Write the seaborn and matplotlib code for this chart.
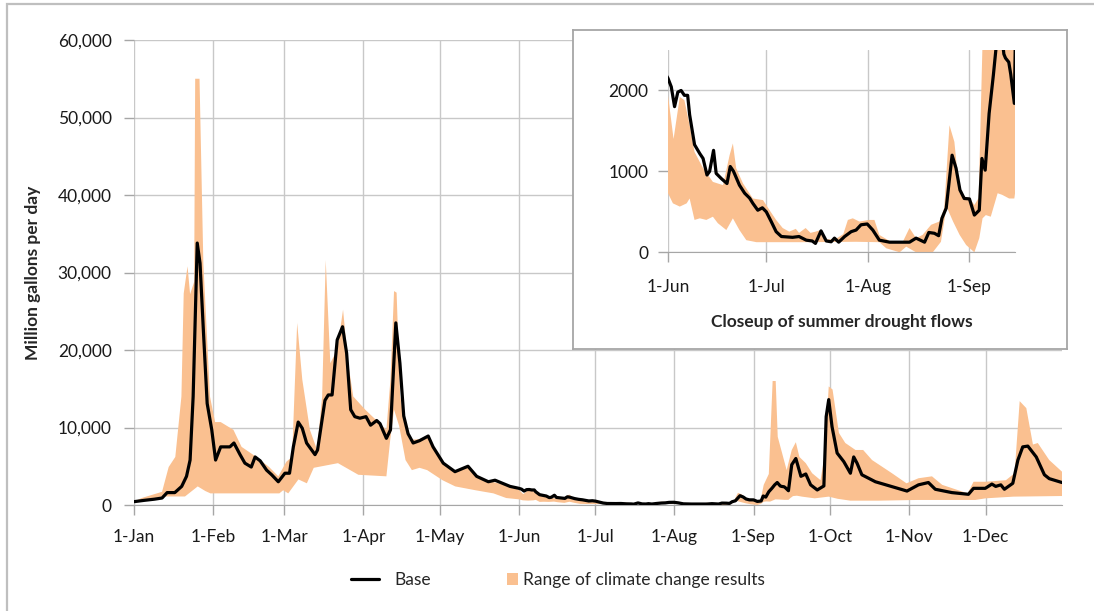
import matplotlib
matplotlib.use("Agg")
import matplotlib.pyplot as plt
from matplotlib.lines import Line2D
from matplotlib.patches import Patch, Rectangle
from matplotlib.ticker import FuncFormatter
import numpy as np
import seaborn as sns

sns.set_style("white")
plt.rcParams["font.family"] = ["Lato", "DejaVu Sans"]

# day of year (0 = 1-Jan) for month gridlines
month_starts = [0, 31, 59, 90, 120, 151, 181, 212, 243, 273, 304, 334]
month_labels = ["1-Jan", "1-Feb", "1-Mar", "1-Apr", "1-May", "1-Jun",
                "1-Jul", "1-Aug", "1-Sep", "1-Oct", "1-Nov", "1-Dec"]

# Base flow, million gallons per day
base_day = [0, 4, 8, 11, 13, 16, 18.7, 20.6, 22, 23.2, 24.8, 25.9, 27.2, 28.7, 30.5, 32, 34,
            37.6, 39.2, 41.6, 43.5, 46, 47.5, 49.5, 52, 54, 56.6, 59.2, 61, 62.5, 64.4, 66,
            67.7, 71, 72, 74.9, 76.2, 77.7, 79.7, 81.8, 83.4, 85, 86.6, 88.6, 91, 92.8, 95.2,
            96.5, 99, 100.6, 102.7, 104.3, 105.8, 107.5, 109.5, 112, 115.4, 117.3, 121.3,
            125.9, 131, 134.4, 139, 141.6, 147.5,
            151, 152, 153, 154, 155, 156, 157, 157.6, 159.1, 160.7, 161.7, 162.9, 163.7,
            164.9, 165.7, 167.3, 169, 170, 171, 172.8, 174.4, 175.9, 176.9, 178.4, 179.8,
            181, 182.5, 184, 185.6, 189, 191, 193.2, 195, 196, 197.7, 199.3, 200.8, 201.8,
            203.1, 204.9, 206.9, 208.4, 209.9, 211.8, 213.5, 215.5, 218.6, 224.7, 226.7,
            229.3, 230.6, 232.3, 233.6, 234.6, 235.9, 237.7, 238.9, 240.1, 241.4, 243,
            244.5, 246, 246.8, 247.8, 249, 250.3, 251.3, 252.3, 253.5, 254, 255, 255.6,
            256.7, 258, 259.6, 261.6, 263.5, 265.4, 268, 270.6, 271.5, 272.5, 273.8, 275.8,
            278.4, 281, 282.3, 283.6, 285.5, 290.8, 297.3, 303.2, 307.7, 311.6, 314.3,
            320.8, 327.3, 329.3, 333.9, 336.5, 338, 340, 341.4, 344.7, 346.7, 348.6, 350.6,
            353.9, 357.1, 359, 364]
base_flow = [430, 600, 750, 900, 1600, 1600, 2400, 3700, 5800, 14000, 33800, 31200, 22600,
             13100, 9700, 5800, 7500, 7500, 8000, 6500, 5400, 4900, 6200, 5700, 4500, 3900,
             3000, 4100, 4100, 7500, 10700, 9900, 8000, 6500, 7100, 13500, 14200, 14200,
             21300, 23000, 19600, 12300, 11400, 11200, 11400, 10300, 10900, 10500, 8600, 9700,
             23500, 18300, 11500, 9200, 8000, 8300, 8900, 7500, 5400, 4300, 5000, 3700, 3000,
             3200, 2400,
             2150, 2045, 1800, 1980, 2000, 1940, 1940, 1700, 1330, 1220, 1160, 955, 1000,
             1260, 975, 910, 850, 1060, 1000, 830, 730, 670, 605, 520, 550, 500, 380, 255,
             195, 185, 195, 150, 140, 110, 265, 140, 130, 175, 125, 195, 255, 275, 340, 350,
             275, 150, 125, 125, 175, 125, 245, 235, 205, 420, 545, 1200, 1040, 770, 665, 660,
             460, 520, 1160, 1015, 1715, 2190, 2600, 2900, 2450, 2400, 2350, 2200, 1840,
             5200, 6000, 3700, 4000, 2600, 1940, 2460, 11400, 13600, 10100, 6700, 5600, 4100,
             6200, 5400, 3900, 3000, 2370, 1800, 2600, 2900, 2030, 1600, 1380, 2150, 2150,
             2700, 2400, 2600, 2030, 2800, 5800, 7500, 7600, 6200, 3900, 3400, 2900]

# upper edge of climate change range
high_day = [0, 3, 11, 13.6, 16.2, 18.6, 19.5, 21, 22, 23.6, 24, 25.7, 27.2, 29.8, 31.8, 34,
            39, 42.2, 48, 53, 56.6, 59.8, 62, 64, 66, 69, 71.8, 73.8, 75.2, 77, 79.7, 82, 84,
            86, 90.7, 99, 100.6, 102, 103, 104.4, 106.3, 108, 112, 115.4, 117.3, 121.3,
            125.9, 131, 134.4, 139, 147.5,
            151, 152.7, 154.6, 156, 157.6, 159.1, 161.7, 164.7, 167.8, 169.8, 170.8, 171.8,
            173.9, 176.9, 180, 182, 184, 186, 188, 190, 191, 193, 194.5, 196, 197.7, 199.3,
            202, 204.5, 205.9, 207.4, 209.4, 212.4, 214, 215.5, 218.6, 222.6, 224.7, 226.7,
            228.7, 231.3, 233.8, 235.3, 236.9, 238.4, 239.9, 241.4, 243, 244.5, 245.8,
            247, 249, 250.5, 251.7, 252.5, 256, 258, 259.6, 261, 263.5, 266, 269.3, 271,
            272.5, 274, 276.5, 279, 283, 286, 289.5, 297.3, 303, 307.7, 313, 317, 327,
            329.3, 334, 342, 345.4, 347.4, 350, 352.6, 354.5, 359, 364]
high_flow = [430, 900, 1700, 4900, 6200, 14000, 27300, 30800, 27200, 28800, 55000, 55000,
             31200, 14000, 10700, 10700, 9700, 7500, 6200, 4900, 3700, 5600, 6200, 23500,
             16200, 9700, 7100, 14000, 31600, 18300, 20000, 25200, 18300, 14000, 12300, 9700,
             16200, 27600, 27400, 14000, 10500, 8400, 8500, 9000, 7600, 5500, 4400, 5100,
             3800, 3100, 2450,
             1940, 1400, 1920, 1880, 1570, 1240, 1040, 870, 830, 1200, 1345, 1040, 850, 665,
             645, 520, 400, 300, 255, 290, 240, 300, 240, 255, 275, 160, 160, 225, 400, 420,
             380, 400, 400, 215, 140, 125, 300, 175, 215, 340, 380, 545, 1570, 1365, 750,
             690, 670, 585, 670, 2600, 4000, 16000, 16000, 8800, 4500, 7100, 8100, 6200, 5400,
             4100, 3200, 6700, 15300, 14900, 9300, 8000, 7100, 7100, 5800, 4100, 2800, 3450,
             3700, 2600, 1500, 3000, 3000, 3200, 4100, 13400, 12500, 7800, 8000, 5800, 4300]

# lower edge of climate change range
low_day = [0, 5, 11, 20, 25, 28, 30, 40, 50, 57, 58.5, 60.5, 62.5, 64.5, 67.8, 70.5, 80, 88,
           99, 100.5, 102, 104, 106.5, 109, 112, 115, 121, 126, 134, 141, 146,
           151, 152.5, 154.6, 156.7, 157.6, 159.1, 160.7, 162.7, 164.7, 166.2, 168.8, 170.8,
           172.8, 174.9, 178, 192, 208.4, 215.5, 217.6, 221.7, 223.7, 226.7, 231.8, 234.3,
           236, 238, 240, 242, 244.5, 246, 247, 248, 249.5, 251.6, 253, 255.1, 256.7, 257.5,
           258.5, 260, 262, 267, 272.5, 276, 281, 292, 307, 320, 330, 334, 345, 364]
low_flow = [300, 600, 1100, 1100, 2400, 1800, 1500, 1500, 1500, 1500, 1900, 1500, 2400, 3300,
            2800, 4800, 5400, 3900, 3700, 8400, 12300, 10200, 5800, 4500, 4800, 4500, 3200,
            2400, 1900, 1500, 900,
            730, 605, 565, 605, 665, 400, 420, 400, 440, 360, 275, 420, 275, 150, 125, 125,
            130, 125, 50, 0, 70, 0, 0, 130, 565, 380, 215, 90, 0, 175, 420, 460, 440, 730,
            710, 665, 665, 910, 1150, 1200, 1080, 860, 1080, 800, 560, 560, 650, 650, 650,
            860, 1080, 1160]

BAND = "#FAC090"
GRID = "#c8c8c8"
AXIS = "#a6a6a6"
W, H = 1094, 611


def draw_series(ax):
    band_x = np.r_[high_day, low_day[::-1]]
    band_y = np.r_[high_flow, low_flow[::-1]]
    ax.fill(band_x, band_y, color=BAND, lw=0, zorder=2)
    sns.lineplot(x=base_day, y=base_flow, ax=ax, color="black", lw=2.3, zorder=3)
    ax.set_xticks(month_starts)
    ax.set_xticklabels(month_labels)
    ax.grid(True, color=GRID, lw=1)
    ax.set_axisbelow(True)
    for s in ["top", "right", "left"]:
        ax.spines[s].set_visible(False)
    ax.spines["bottom"].set_color(AXIS)
    ax.set_xlabel("")
    ax.set_ylabel("")


fig = plt.figure(figsize=(W / 100, H / 100), dpi=100)

# outer chart border (runs off the right and bottom of the picture)
fig.patches.append(Rectangle((7 / W, -0.2), 2, 1.2 - 4 / H, transform=fig.transFigure,
                             fill=False, edgecolor="#bfbfbf", lw=1.6))

# main chart
ax = fig.add_axes([134 / W, 1 - 505 / H, (1062 - 134) / W, (505 - 40) / H])
draw_series(ax)
ax.set_xlim(0, 364)
ax.set_ylim(0, 60000)
ax.set_yticks(range(0, 60001, 10000))
ax.yaxis.set_major_formatter(FuncFormatter(lambda v, p: f"{v:,.0f}"))
ax.tick_params(axis="both", which="major", labelsize=12.5, colors=AXIS,
               labelcolor="#1a1a1a", length=7, width=1, direction="out")
ax.tick_params(axis="y", pad=9, left=True)
ax.tick_params(axis="x", pad=10, bottom=True)
ax.set_ylabel("Million gallons per day", fontsize=12.5, fontweight="bold", labelpad=12)

# inset frame
frame = fig.add_axes([573 / W, 1 - 349 / H, (1067 - 573) / W, (349 - 30) / H])
frame.set_xticks([])
frame.set_yticks([])
frame.set_facecolor("white")
for s in frame.spines.values():
    s.set_color(AXIS)
    s.set_linewidth(1.3)

# close-up of summer drought flows
ins = fig.add_axes([668 / W, 1 - 252.3 / H, (1015 - 668) / W, (252.3 - 50) / H])
draw_series(ins)
ins.set_xlim(151, 256.9)
ins.set_ylim(0, 2500)
ins.set_yticks([0, 1000, 2000])
ins.tick_params(axis="both", which="major", labelsize=12.5, colors=AXIS,
                labelcolor="#1a1a1a", length=7, width=1, direction="out")
ins.tick_params(axis="y", pad=7, left=True)
ins.tick_params(axis="x", pad=12, bottom=True)
ins.set_xlabel("Closeup of summer drought flows", fontsize=12.5, fontweight="bold",
               labelpad=14)

# legend
leg1 = fig.legend(handles=[Line2D([], [], color="black", lw=2.3)], labels=["Base"],
                  loc="center left", bbox_to_anchor=(351 / W, 1 - 580 / H), frameon=False,
                  fontsize=12.5, handlelength=1.6, handletextpad=0.9, borderpad=0,
                  borderaxespad=0)
leg2 = fig.legend(handles=[Patch(facecolor=BAND, edgecolor="none")],
                  labels=["Range of climate change results"], loc="center left",
                  bbox_to_anchor=(507 / W, 1 - 580 / H), frameon=False, fontsize=12.5,
                  handlelength=0.65, handleheight=0.65, handletextpad=0.3, borderpad=0,
                  borderaxespad=0)

fig.savefig("out.png", dpi=100)
